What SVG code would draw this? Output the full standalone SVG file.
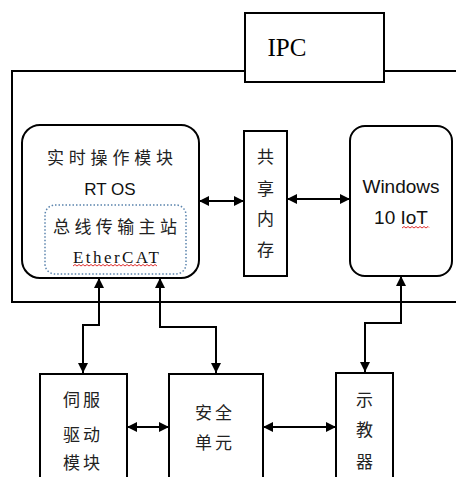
<svg xmlns="http://www.w3.org/2000/svg" width="456" height="477" viewBox="0 0 456 477">
<defs>
<marker id="ah" viewBox="0 0 10 10" refX="10" refY="5" markerWidth="10" markerHeight="10" markerUnits="userSpaceOnUse" orient="auto-start-reverse">
<path d="M0,0 L10,5 L0,10 Z" fill="#000"/>
</marker>
<style>
.box{fill:#fff;stroke:#000;stroke-width:2}
.ln{fill:none;stroke:#000;stroke-width:2}
.cjk{font-family:"Noto Sans CJK SC",sans-serif;font-size:17px;fill:#222;text-anchor:middle}
.lat{font-family:"Liberation Sans",Arial,sans-serif;font-size:17px;fill:#111;text-anchor:middle}
.win{font-size:19px}
.wavy{fill:none;stroke:#e03030;stroke-width:1}
</style>
</defs>
<rect width="456" height="477" fill="#fff"/>
<g id="outer">
<rect class="box" x="12" y="71" width="460" height="231"/>
</g>
<g id="ipc">
<rect class="box" x="245" y="13" width="139" height="69"/>
<text x="287" y="56" font-family="'Liberation Serif',serif" font-size="25" text-anchor="middle" fill="#000">IPC</text>
</g>
<g id="rtos">
<rect class="box" x="22" y="125" width="177" height="153" rx="18"/>
<text class="cjk" x="110" y="164" textLength="126" lengthAdjust="spacing">实时操作模块</text>
<text class="lat" x="110" y="195">RT OS</text>
</g>
<g id="ethercat">
<rect x="45" y="205" width="141" height="69" rx="10" fill="none" stroke="#5b84ad" stroke-width="1.5" stroke-dasharray="1.5 2"/>
<text class="cjk" x="115" y="233" textLength="124" lengthAdjust="spacing">总线传输主站</text>
<text x="116" y="263" font-family="'Liberation Serif',serif" font-size="17" text-anchor="middle" fill="#111" textLength="86" lengthAdjust="spacing">EtherCAT</text>
<path class="wavy" d="M73,266 l2,-1.5 l2,1.5 l2,-1.5 l2,1.5 l2,-1.5 l2,1.5 l2,-1.5 l2,1.5 l2,-1.5 l2,1.5 l2,-1.5 l2,1.5 l2,-1.5 l2,1.5 l2,-1.5 l2,1.5 l2,-1.5 l2,1.5 l2,-1.5 l2,1.5 l2,-1.5 l2,1.5 l2,-1.5 l2,1.5 l2,-1.5 l2,1.5 l2,-1.5 l2,1.5 l2,-1.5 l2,1.5 l2,-1.5 l2,1.5 l2,-1.5 l2,1.5 l2,-1.5 l2,1.5 l2,-1.5 l2,1.5 l2,-1.5 l2,1.5 l2,-1.5 l2,1.5"/>
</g>
<g id="shm">
<rect class="box" x="244" y="131" width="43" height="145"/>
<text class="cjk" x="265.5" y="163">共</text>
<text class="cjk" x="265.5" y="195">享</text>
<text class="cjk" x="265.5" y="225">内</text>
<text class="cjk" x="265.5" y="256">存</text>
</g>
<g id="windows">
<rect class="box" x="350" y="126" width="102" height="150" rx="15"/>
<text class="lat win" x="401" y="193">Windows</text>
<text class="lat win" x="401" y="224">10 IoT</text>
<path class="wavy" d="M402,228 l2,-1.5 l2,1.5 l2,-1.5 l2,1.5 l2,-1.5 l2,1.5 l2,-1.5 l2,1.5 l2,-1.5 l2,1.5 l2,-1.5 l2,1.5 l2,-1.5 l1,1"/>
</g>
<g id="servo">
<rect class="box" x="40" y="374" width="87" height="110"/>
<text class="cjk" x="83" y="406" letter-spacing="3">伺服</text>
<text class="cjk" x="83" y="441" letter-spacing="3">驱动</text>
<text class="cjk" x="83" y="469" letter-spacing="3">模块</text>
</g>
<g id="safety">
<rect class="box" x="169" y="374" width="94" height="110"/>
<text class="cjk" x="215" y="419" letter-spacing="3">安全</text>
<text class="cjk" x="215" y="449" letter-spacing="3">单元</text>
</g>
<g id="teach">
<rect class="box" x="336" y="373" width="57" height="111"/>
<text class="cjk" x="364.5" y="406">示</text>
<text class="cjk" x="364.5" y="436">教</text>
<text class="cjk" x="364.5" y="468">器</text>
</g>
<g id="connectors">
<line class="ln" x1="199" y1="201" x2="244" y2="201" marker-start="url(#ah)" marker-end="url(#ah)"/>
<line class="ln" x1="287" y1="199" x2="350" y2="199" marker-start="url(#ah)" marker-end="url(#ah)"/>
<polyline class="ln" points="83,373 83,325 99,325 99,278" marker-start="url(#ah)" marker-end="url(#ah)"/>
<polyline class="ln" points="216,373 216,327 160,327 160,278" marker-start="url(#ah)" marker-end="url(#ah)"/>
<polyline class="ln" points="365,372 365,323 401,323 401,276" marker-start="url(#ah)" marker-end="url(#ah)"/>
<line class="ln" x1="127" y1="427" x2="169" y2="427" marker-start="url(#ah)" marker-end="url(#ah)"/>
<line class="ln" x1="263" y1="427" x2="336" y2="427" marker-start="url(#ah)" marker-end="url(#ah)"/>
</g>
</svg>
